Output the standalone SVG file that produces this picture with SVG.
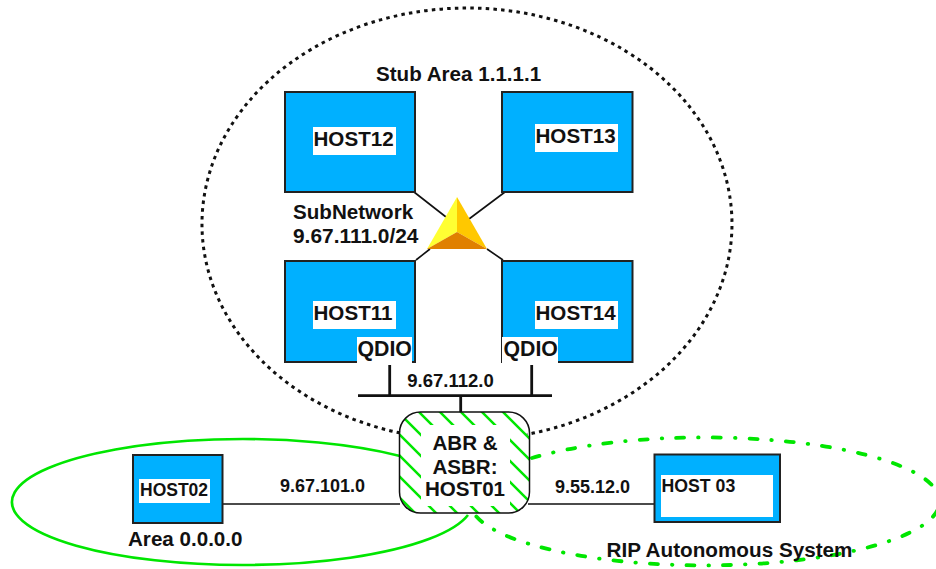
<svg xmlns="http://www.w3.org/2000/svg" width="936" height="569" viewBox="0 0 936 569">
<style>
text{font-family:"Liberation Sans",Arial,sans-serif;font-weight:700;fill:#111}
.t{font-size:20.6px}
.q{font-size:21.3px}
.s{font-size:18px}
.host{fill:#00b0ff;stroke:#222;stroke-width:2}
.lab{fill:#fff}
.ln{stroke:#111;fill:none}
</style>
<defs>
<pattern id="hatch" width="21" height="21" patternUnits="userSpaceOnUse" x="398" y="412">
<path d="M-2 -2L23 23M-3 18L3 24M18 -3L24 3" stroke="#00e600" stroke-width="2.5" fill="none"/>
</pattern>
</defs>
<rect width="936" height="569" fill="#fff"/>
<g id="connectors">
<path class="ln" stroke-width="1.600" d="M414 192L446 217M505 192L469 219M416 260L430 249M487 249L503 260"/>
<path class="ln" stroke-width="2.800" d="M389.700 365V395M531.700 365V395M358 395.700H552M460.700 396V412"/>
<path class="ln" stroke-width="1.600" d="M222 504H400M528 504H655"/>
</g>
<g id="stub-area"><path d="M400 433A265 216 0 1 1 527 434.400" fill="none" stroke="#111" stroke-width="3" stroke-dasharray="3.500 4.200"/></g>
<g id="area-0"><path d="M400 456A230.500 63 0 1 0 468 515" fill="none" stroke="#00e600" stroke-width="2.600"/></g>
<g id="rip-as"><path d="M532 458A235 64 0 1 1 474 513.500" fill="none" stroke="#00e600" stroke-width="3.800" stroke-linecap="round" stroke-dasharray="8 14 .5 14"/></g>
<text class="t" x="376" y="81">Stub Area 1.1.1.1</text>
<g id="host12"><rect class="host" x="285" y="92" width="130" height="100"/><rect class="lab" x="313" y="127" width="83" height="28"/><text class="t" x="313.500" y="146">HOST12</text></g>
<g id="host13"><rect class="host" x="502" y="92" width="130.500" height="100"/><rect class="lab" x="535" y="124" width="83" height="28"/><text class="t" x="535.500" y="143">HOST13</text></g>
<g id="host11"><rect class="host" x="285" y="261" width="130" height="101"/><rect class="lab" x="313" y="301" width="83" height="28"/><text class="t" x="313.500" y="320">HOST11</text><rect class="lab" x="357" y="337" width="55" height="26"/><text class="q" x="357.500" y="356">QDIO</text></g>
<g id="host14"><rect class="host" x="502" y="261" width="130.500" height="101"/><rect class="lab" x="535" y="301" width="83" height="28"/><text class="t" x="535.500" y="320">HOST14</text><rect class="lab" x="502" y="337" width="56" height="26"/><text class="q" x="503.500" y="356">QDIO</text></g>
<g id="subnetwork">
<path d="M457 197L427 249L457 232Z" fill="#ffff33"/><path d="M457 197L487 249L457 232Z" fill="#ffc800"/><path d="M427 249H487L457 232Z" fill="#e08000"/>
<text class="t" x="293" y="219">SubNetwork</text><text class="t" style="font-size:20.900px" x="293" y="243">9.67.111.0/24</text>
</g>
<text class="s" style="font-size:18.500px" x="450.500" y="387" text-anchor="middle">9.67.112.0</text>
<g id="host01"><rect x="399.500" y="412" width="130" height="101" rx="21" fill="url(#hatch)" stroke="none"/><rect x="421" y="425" width="89" height="81" fill="#fff"/><rect x="399.500" y="412" width="130" height="101" rx="21" fill="none" stroke="#111" stroke-width="1.500"/>
<text class="t" x="465" y="450" text-anchor="middle">ABR &amp;</text><text class="t" x="465" y="474" text-anchor="middle">ASBR:</text><text class="t" x="465" y="496" text-anchor="middle">HOST01</text></g>
<text class="s" x="322.500" y="492" text-anchor="middle">9.67.101.0</text>
<text class="s" x="592.500" y="493" text-anchor="middle">9.55.12.0</text>
<g id="host02"><rect class="host" x="133" y="455" width="89.500" height="68"/><rect class="lab" x="139" y="479" width="71" height="24"/><text class="s" style="font-size:17.500px" x="140" y="496">HOST02</text></g>
<text class="t" x="128" y="546">Area 0.0.0.0</text>
<g id="host03"><rect class="host" x="654.500" y="454.500" width="125.500" height="67.500"/><rect class="lab" x="661" y="475" width="112" height="42"/><text class="s" style="font-size:17.700px" x="661.500" y="492">HOST 03</text></g>
<text class="t" style="font-size:20.700px" x="606.500" y="557">RIP Autonomous System</text>
</svg>
